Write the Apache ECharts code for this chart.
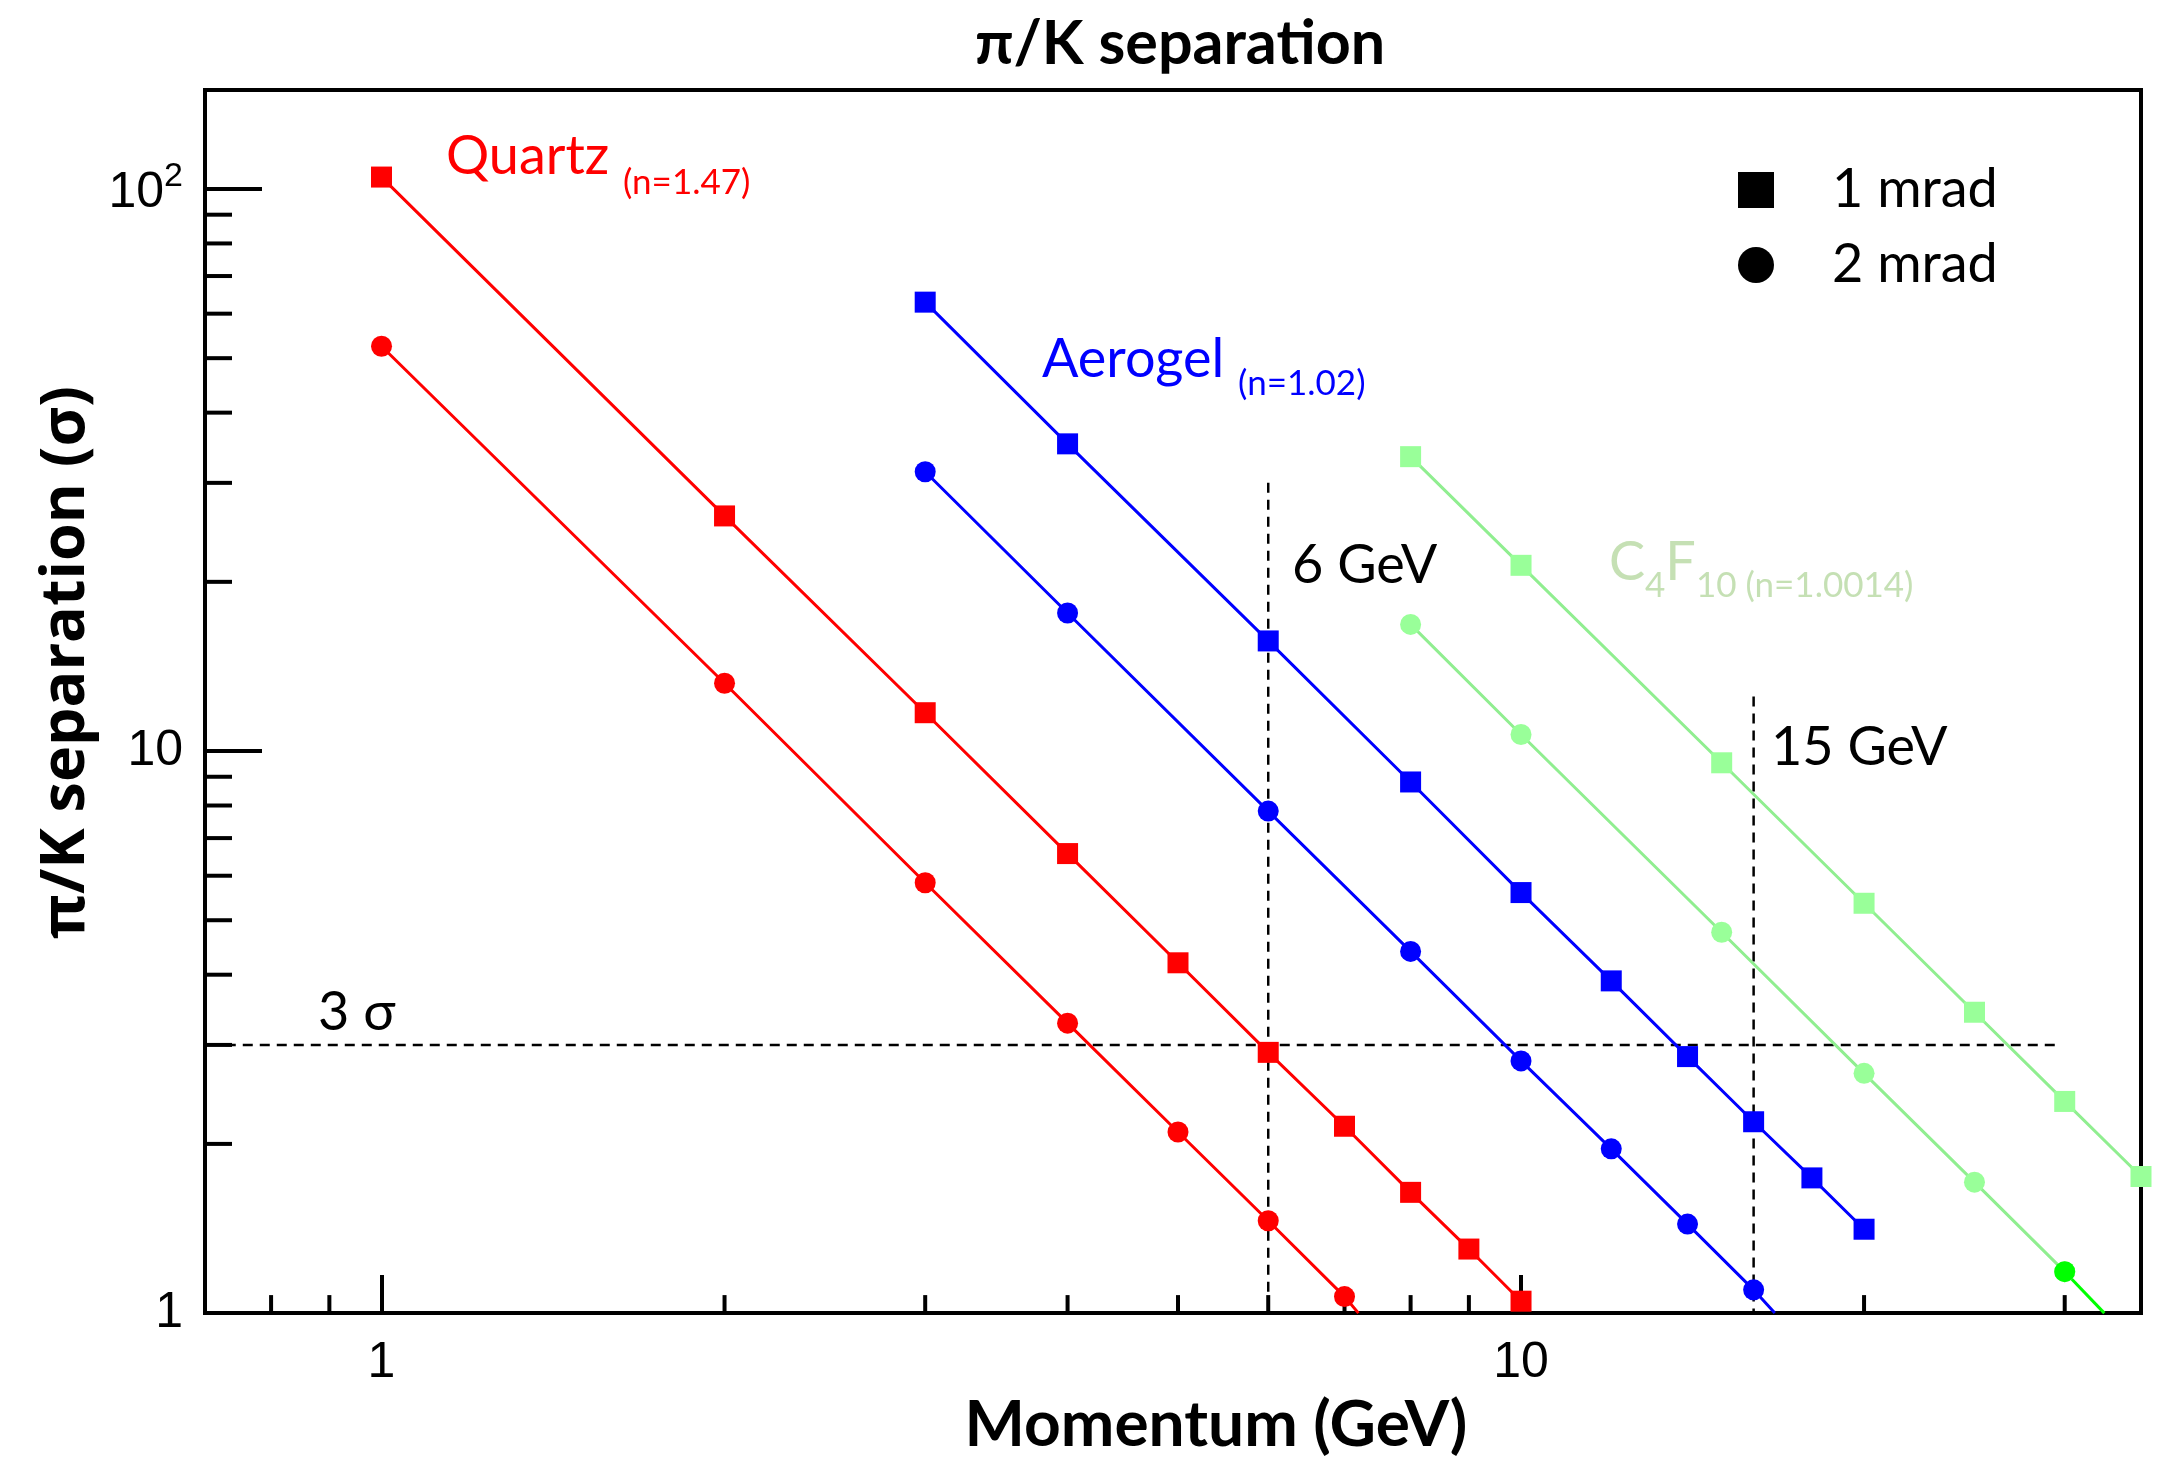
<!DOCTYPE html>
<html lang="en">
<head>
  <meta charset="UTF-8">
  <title>π/K separation</title>
  <style>
    html, body { margin: 0; padding: 0; background: #fff; }
    #chart { width: 2174px; height: 1462px; }
  </style>
</head>
<body>
<div id="chart"></div>
<script src="https://cdn.jsdelivr.net/npm/echarts@6/dist/echarts.min.js"></script>
<script>
  // values: [momentum GeV, separation sigma]
  var quartz1 = [[1, 105], [2, 26.2], [3, 11.7], [4, 6.57], [5, 4.2], [6, 2.91], [7, 2.15], [8, 1.64], [9, 1.3], [10, 1.05]]
  var quartz2 = [[1, 52.5], [2, 13.2], [3, 5.83], [4, 3.28], [5, 2.1], [6, 1.46], [7, 1.07]]
  var quartz2End = [7.2, 1]
  var aerogel1 = [[3, 62.9], [4, 35.2], [6, 15.7], [8, 8.81], [10, 5.6], [12, 3.9], [14, 2.86], [16, 2.19], [18, 1.74], [20, 1.41]]
  var aerogel2 = [[3, 31.4], [4, 17.6], [6, 7.82], [8, 4.4], [10, 2.81], [12, 1.96], [14, 1.44], [16, 1.1]]
  var aerogel2End = [16.7, 1]
  var c4f10_1 = [[8, 33.4], [10, 21.4], [15, 9.53], [20, 5.36], [25, 3.43], [30, 2.38], [35, 1.75]]
  var c4f10_2 = [[8, 16.8], [10, 10.7], [15, 4.76], [20, 2.67], [25, 1.71], [30, 1.185]]
  var c4f10_2End = [32.5, 1]

  // guide lines
  var line3sigma = [[0.73, 3], [29.5, 3]]
  var line6GeV = [[6, 30], [6, 1]]
  var line15GeV = [[16, 12.5], [16, 1]]

  // axes
  var xMin = 0.7, xMax = 35
  var yMin = 1, yMax = 150
  var xMinorTicks = [0.8, 0.9, 2, 3, 4, 5, 6, 7, 8, 9, 20, 30]
  var yMinorTicks = [2, 3, 4, 5, 6, 7, 8, 9, 20, 30, 40, 50, 60, 70, 80, 90]

  var RED = '#ff0000', BLUE = '#0000ff', LGREEN = '#99ff99', LGREEN_LINE = '#90ee90', GREEN = '#00ff00'
  var LABEL_GREEN = '#c5e0b4'
  var FONT = 'Lato'

  var myChart = echarts.init(document.getElementById('chart'), null, { renderer: 'canvas' })

  function isPow10(v) {
    var l = Math.log(v) / Math.LN10
    return Math.abs(l - Math.round(l)) < 1e-6
  }

  function minorTicks(values, dir, len) {
    return {
      type: 'custom',
      silent: true,
      clip: false,
      z: 1,
      data: values.map(function (v) { return dir === 'x' ? [v, yMin] : [xMin, v] }),
      renderItem: function (params, api) {
        var p = api.coord([api.value(0), api.value(1)])
        var shape = dir === 'x'
          ? { x1: p[0], y1: p[1], x2: p[0], y2: p[1] - len }
          : { x1: p[0], y1: p[1], x2: p[0] + len, y2: p[1] }
        return { type: 'line', shape: shape, style: { stroke: '#000', lineWidth: 4 } }
      }
    }
  }

  function curve(data, end, color, lineColor, symbol) {
    var d = data.slice()
    if (end) d.push({ value: end, symbol: 'none' })
    return {
      type: 'line',
      data: d,
      symbol: symbol,
      symbolSize: 21,
      showAllSymbol: true,
      z: 3,
      itemStyle: { color: color },
      lineStyle: { color: lineColor || color, width: 3 },
      emphasis: { disabled: true }
    }
  }

  function guide(data) {
    return {
      type: 'line',
      data: data,
      symbol: 'none',
      z: 2,
      lineStyle: { color: '#000', width: 2.5, type: [10, 7] },
      emphasis: { disabled: true }
    }
  }

  // label with a lowered small part, like "Quartz (n=1.47)"; lh sets how far the small part drops
  function subLabel(text, x, y, color, lh) {
    return {
      type: 'text', x: x, y: y, z: 10,
      style: {
        text: text, fill: color, textAlign: 'left', textVerticalAlign: 'top',
        rich: {
          m: { fontFamily: FONT, fontSize: 54, lineHeight: lh, verticalAlign: 'top', fill: color },
          s: { fontFamily: FONT, fontSize: 35, lineHeight: 35, verticalAlign: 'bottom', fill: color }
        }
      }
    }
  }

  function plainLabel(text, x, y) {
    return {
      type: 'text', x: x, y: y, z: 10,
      style: { text: text, fill: '#000', fontFamily: FONT, fontSize: 54, textAlign: 'left', textVerticalAlign: 'middle' }
    }
  }

  var c4f10Tail = curve([c4f10_2[c4f10_2.length - 1]], c4f10_2End, GREEN, GREEN, 'circle')

  var option = {
    animation: false,
    backgroundColor: '#fff',
    title: {
      text: 'π/K separation',
      left: 1180,
      top: 14,
      padding: 0,
      textAlign: 'center',
      textStyle: { fontFamily: FONT, fontWeight: 'bold', fontSize: 61, color: '#000' }
    },
    legend: {
      orient: 'vertical',
      left: 1738,
      top: 163,
      padding: 0,
      itemWidth: 36,
      itemHeight: 36,
      itemGap: 21,
      selectedMode: false,
      itemStyle: { color: '#000', opacity: 1, borderWidth: 0 },
      data: [
        { name: '1 mrad', icon: 'rect', itemStyle: { color: '#000', opacity: 1 } },
        { name: '2 mrad', icon: 'circle', itemStyle: { color: '#000', opacity: 1 } }
      ],
      textStyle: { fontFamily: FONT, fontSize: 54, color: '#000', lineHeight: 36, padding: [0, 0, 0, 53] }
    },
    grid: {
      left: 205, right: 33, top: 90, bottom: 141,
      show: true, borderColor: '#000', borderWidth: 4, backgroundColor: 'transparent'
    },
    xAxis: {
      type: 'log',
      logBase: 10,
      min: xMin,
      max: xMax,
      name: 'Momentum (GeV)',
      nameLocation: 'middle',
      nameGap: 70,
      nameTextStyle: { fontFamily: FONT, fontWeight: 'bold', fontSize: 64, color: '#000', padding: [0, 0, 0, 86] },
      axisLine: { show: true, lineStyle: { color: '#000', width: 4 } },
      axisTick: { show: true, inside: true, length: 38, lineStyle: { color: '#000', width: 4 } },
      minorTick: { show: false },
      splitLine: { show: false },
      axisLabel: {
        margin: 25,
        fontFamily: 'Liberation Sans',
        fontSize: 50,
        color: '#000',
        formatter: function (v) { return isPow10(v) ? String(Math.round(v)) : '' }
      }
    },
    yAxis: {
      type: 'log',
      logBase: 10,
      min: yMin,
      max: yMax,
      name: 'π/K separation (σ)',
      nameLocation: 'middle',
      nameRotate: 90,
      nameGap: 88,
      nameTextStyle: { fontFamily: 'Open Sans', fontWeight: 'bold', fontSize: 61, color: '#000', padding: [0, 0, 0, 78] },
      axisLine: { show: true, lineStyle: { color: '#000', width: 4 } },
      axisTick: { show: true, inside: true, length: 57, lineStyle: { color: '#000', width: 4 } },
      minorTick: { show: false },
      splitLine: { show: false },
      axisLabel: {
        margin: 22,
        fontFamily: 'Liberation Sans',
        fontSize: 50,
        color: '#000',
        formatter: function (v) {
          if (!isPow10(v)) return ''
          var e = Math.round(Math.log(v) / Math.LN10)
          return e >= 2 ? '{b|10}{s|' + e + '}' : String(Math.round(v))
        },
        rich: {
          b: { fontFamily: 'Liberation Sans', fontSize: 50, lineHeight: 59, verticalAlign: 'bottom', color: '#000' },
          s: { fontFamily: 'Liberation Sans', fontSize: 34, lineHeight: 34, verticalAlign: 'top', color: '#000' }
        }
      }
    },
    graphic: [
      subLabel('{m|Quartz }{s|(n=1.47)}', 446, 130, RED, 70),
      subLabel('{m|Aerogel }{s|(n=1.02)}', 1042, 333, BLUE, 68),
      subLabel('{m|C}{s|4}{m|F}{s|10 (n=1.0014)}', 1609, 536, LABEL_GREEN, 67),
      plainLabel('6 GeV', 1292, 566),
      plainLabel('15 GeV', 1771, 748),
      plainLabel('3 σ', 318, 1013)
    ],
    series: [
      minorTicks(xMinorTicks, 'x', 18),
      minorTicks(yMinorTicks, 'y', 27),
      guide(line3sigma),
      guide(line6GeV),
      guide(line15GeV),
      curve(quartz1, null, RED, RED, 'rect'),
      curve(quartz2, quartz2End, RED, RED, 'circle'),
      curve(aerogel1, null, BLUE, BLUE, 'rect'),
      curve(aerogel2, aerogel2End, BLUE, BLUE, 'circle'),
      curve(c4f10_1, null, LGREEN, LGREEN_LINE, 'rect'),
      curve(c4f10_2, null, LGREEN, LGREEN_LINE, 'circle'),
      c4f10Tail,
      { name: '1 mrad', type: 'scatter', data: [], symbol: 'rect', itemStyle: { color: '#000' } },
      { name: '2 mrad', type: 'scatter', data: [], symbol: 'circle', itemStyle: { color: '#000' } }
    ]
  }

  myChart.setOption(option)
  window.addEventListener('resize', myChart.resize)
</script>
</body>
</html>
